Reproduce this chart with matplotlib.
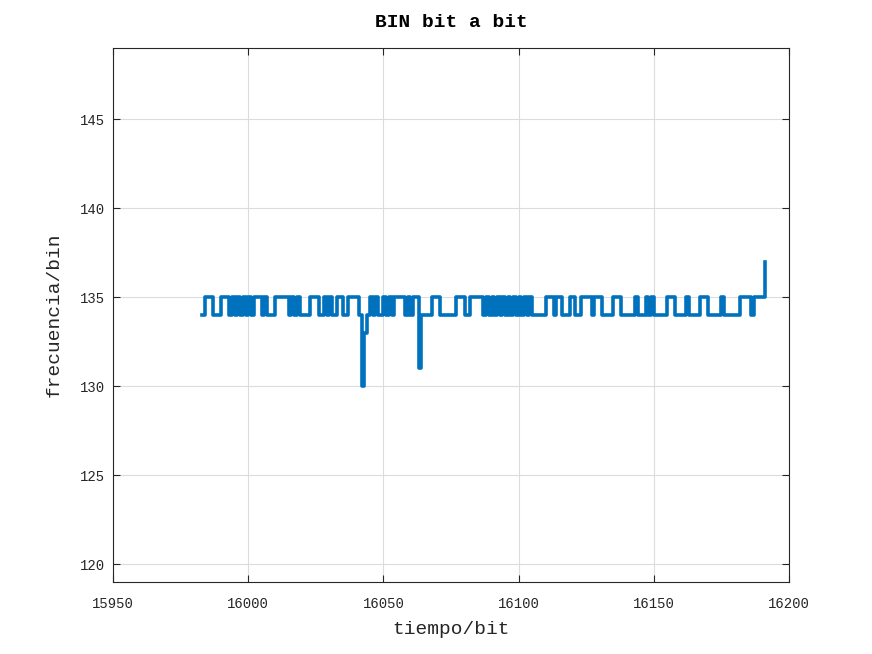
import numpy as np
import matplotlib
matplotlib.use("Agg")
import matplotlib.pyplot as plt

# run-length encoded bin value per bit: (bin, number of bits)
runs = [
    (134, 1), (135, 3), (134, 3), (135, 3),
    (134, 1), (135, 1), (134, 1), (135, 1), (134, 1), (135, 1), (134, 1), (135, 1), (134, 1),
    (135, 3), (134, 1), (135, 1), (134, 3), (135, 5),
    (134, 1), (135, 1), (134, 1), (135, 1), (134, 4),
    (135, 3), (134, 2), (135, 1), (134, 1), (135, 1), (134, 2), (135, 2), (134, 2),
    (135, 4), (134, 1), (130, 1), (133, 1),
    (134, 1), (135, 1), (134, 1), (135, 1), (134, 2),
    (135, 1), (134, 1), (135, 1), (134, 1), (135, 4),
    (134, 1), (135, 1), (134, 1), (135, 2), (131, 1),
    (134, 4), (135, 3), (134, 6), (135, 3), (134, 2), (135, 5),
    (134, 1), (135, 1), (134, 1), (135, 1), (134, 1), (135, 1), (134, 1), (135, 1), (134, 1),
    (135, 1), (134, 1), (135, 1), (134, 1), (135, 1), (134, 1), (135, 1), (134, 1), (135, 1),
    (134, 5), (135, 3), (134, 1), (135, 2), (134, 3), (135, 2), (134, 2), (135, 4),
    (134, 1), (135, 3), (134, 4), (135, 3), (134, 5), (135, 1), (134, 3),
    (135, 1), (134, 1), (135, 1),
    (134, 5), (135, 3), (134, 4), (135, 1), (134, 4), (135, 3), (134, 5), (135, 1),
    (134, 6), (135, 4), (134, 1), (135, 4), (137, 1),
]
t_start = 15983

bins = []
for v, n in runs:
    bins += [v] * n
bins = np.array(bins)
t = t_start + np.arange(len(bins))

plt.rcParams["font.family"] = ["Liberation Mono", "DejaVu Sans Mono"]

fig = plt.figure(figsize=(8.72, 6.54), dpi=100)
ax = fig.add_axes([0.1296, 0.1101, 0.7752, 0.8165])

ax.step(t, bins, where="post", color="#0072BD", lw=2.6)

ax.set_xlim(15950, 16200)
ax.set_ylim(119, 149)
ax.set_xticks(np.arange(15950, 16201, 50))
ax.set_yticks(np.arange(120, 146, 5))
ax.grid(True, color="#DCDCDC", lw=0.8)
ax.set_axisbelow(True)
ax.tick_params(direction="in", top=True, right=True, labelsize=10,
               colors="#262626", length=5)
ax.tick_params(axis="x", pad=11)
ax.tick_params(axis="y", pad=6)
for s in ax.spines.values():
    s.set_color("#262626")
    s.set_linewidth(0.8)

ax.set_xlabel("tiempo/bit", fontsize=14, color="#262626", labelpad=7)
ax.set_ylabel("frecuencia/bin", fontsize=14, color="#262626", labelpad=12)
ax.set_title("BIN bit a bit", fontsize=14, fontweight="bold", pad=15)

fig.savefig("out.png", dpi=100)
